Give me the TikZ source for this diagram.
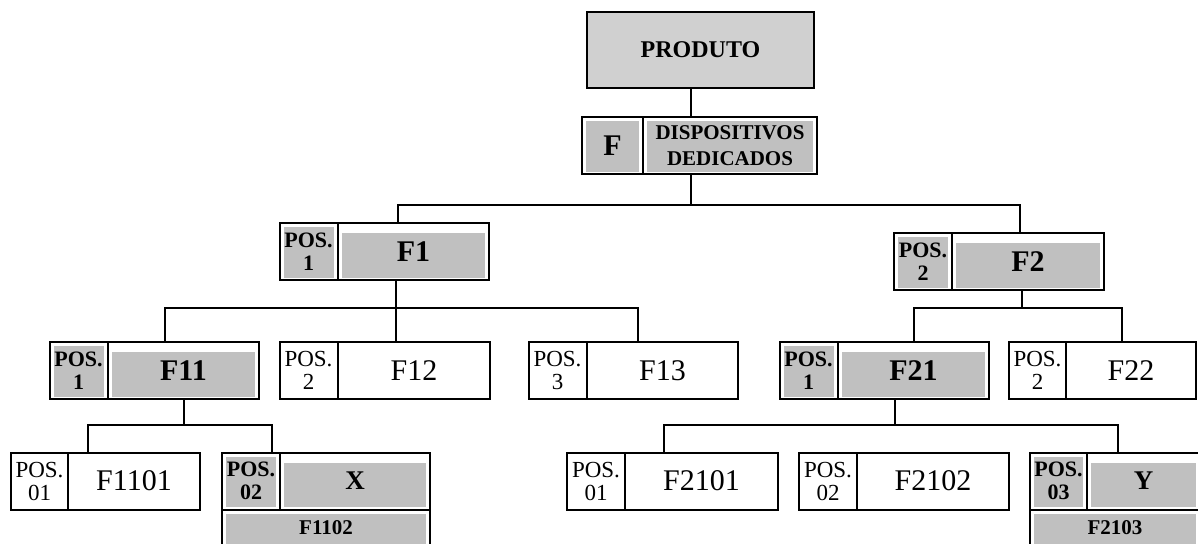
\documentclass[tikz,border=0pt]{standalone}
\usepackage{fontspec}
\setmainfont{Liberation Serif}
\usepackage{tikz}
\usetikzlibrary{calc}
\definecolor{cellgray}{RGB}{192,192,192}
\definecolor{topgray}{RGB}{208,208,208}
\tikzstyle{cell}=[draw, line width=2pt, inner sep=0pt, outer sep=0pt, align=center, minimum height=57pt]
\tikzstyle{poscell}=[cell, minimum width=58pt, font=\fontsize{23}{23}\selectfont]
\tikzstyle{namecell}=[cell, minimum width=151pt, font=\fontsize{30}{30}\selectfont]
% grey inside, white rim
\tikzstyle{hipos}=[font=\fontsize{22}{23}\selectfont\bfseries,
path picture={\fill[cellgray] ([shift={(4pt,2.5pt)}]path picture bounding box.south west) rectangle ([shift={(-4pt,-4pt)}]path picture bounding box.north east);}]
\tikzstyle{hiname}=[font=\fontsize{30}{30}\selectfont\bfseries,
path picture={\fill[cellgray] ([shift={(4pt,2.5pt)}]path picture bounding box.south west) rectangle ([shift={(-4pt,-10pt)}]path picture bounding box.north east);}]
\tikzstyle{conn}=[line width=1.4pt]

\begin{document}
\begin{tikzpicture}[x=1pt,y=-1pt]
\useasboundingbox (0,0) rectangle (1198,543);
\clip (0,0) rectangle (1198,543);
\fill[white] (0,0) rectangle (1198,543);

\node[cell, fill=topgray, minimum width=227pt, minimum height=76pt, font=\fontsize{24}{24}\selectfont\bfseries] (produto) at (700.5,50) {PRODUTO};
\node[poscell, hipos, minimum width=61pt, font=\fontsize{30}{30}\selectfont\bfseries] (fp) at (612.5,145.5) {F};
\node[cell, hipos, minimum width=174pt, font=\fontsize{21}{26}\selectfont\bfseries] (f) at (730,145.5) {DISPOSITIVOS\\DEDICADOS};

\node[poscell, hipos] (f1p) at (308.5,251.5) {POS.\\1};
\node[namecell, hiname] (f1) at (413.5,251.5) {F1};
\node[poscell, hipos] (f2p) at (923,261.5) {POS.\\2};
\node[namecell, hiname, minimum width=152pt] (f2) at (1028,261.5) {F2};

\node[poscell, hipos] (f11p) at (78.5,370.5) {POS.\\1};
\node[namecell, hiname] (f11) at (183.5,370.5) {F11};
\node[poscell] (f12p) at (308.5,370.5) {POS.\\2};
\node[namecell, minimum width=152pt] (f12) at (414,370.5) {F12};
\node[poscell] (f13p) at (557.5,370.5) {POS.\\3};
\node[namecell] (f13) at (662.5,370.5) {F13};
\node[poscell, hipos] (f21p) at (808.5,370.5) {POS.\\1};
\node[namecell, hiname] (f21) at (913.5,370.5) {F21};
\node[poscell, minimum width=57pt] (f22p) at (1037.5,370.5) {POS.\\2};
\node[namecell, minimum width=130pt] (f22) at (1131,370.5) {F22};

\node[poscell, minimum width=57pt] (f1101p) at (39.5,481) {POS.\\01};
\node[namecell, minimum width=132pt] (f1101) at (134,481) {F1101};
\node[poscell, hipos] (f1102p) at (251,481) {POS.\\02};
\node[namecell, hiname, minimum width=150pt, font=\fontsize{27}{27}\selectfont\bfseries] (fx) at (355,481) {X};
\node[cell, hipos, minimum height=36pt, minimum width=208pt, font=\fontsize{21}{21}\selectfont\bfseries] (f1102) at (326,528) {F1102};

\node[poscell] (f2101p) at (596,481) {POS.\\01};
\node[namecell, minimum width=153pt] (f2101) at (701.5,481) {F2101};
\node[poscell] (f2102p) at (828,481) {POS.\\02};
\node[namecell, minimum width=152pt] (f2102) at (933,481) {F2102};
\node[poscell, hipos, minimum width=57pt] (f2103p) at (1058.5,481) {POS.\\03};
\node[namecell, hiname, minimum width=113pt, font=\fontsize{27}{27}\selectfont\bfseries] (fy) at (1143.5,481) {Y};
\node[cell, hipos, minimum height=36pt, minimum width=170pt, font=\fontsize{21}{21}\selectfont\bfseries] (f2103) at (1115,528) {F2103};

% tree lines
\coordinate (a) at (691,205);
\draw[conn] (produto.south -| a) -- (f.north -| a);
\draw[conn] (f.south -| a) -- (a);
\draw[conn] (398,0 |- f1.north) |- (a) -| (1020,0 |- f2.north);

\coordinate (b) at (396,308);
\draw[conn] (f1.south -| b) -- (b);
\draw[conn] (165,0 |- f11.north) |- (b) -| (638,0 |- f13.north);
\draw[conn] (b) -- (f12.north -| b);

\coordinate (c) at (1022,308);
\draw[conn] (f2.south -| c) -- (c);
\draw[conn] (914,0 |- f21.north) |- (c) -| (1122,0 |- f22.north);

\coordinate (d) at (184,425);
\draw[conn] (f11.south -| d) -- (d);
\draw[conn] (88,0 |- f1101.north) |- (d) -| (272,0 |- f1102p.north);

\coordinate (e) at (895,425);
\draw[conn] (f21.south -| e) -- (e);
\draw[conn] (664,0 |- f2101.north) |- (e) -| (1118,0 |- fy.north);
\end{tikzpicture}
\end{document}
